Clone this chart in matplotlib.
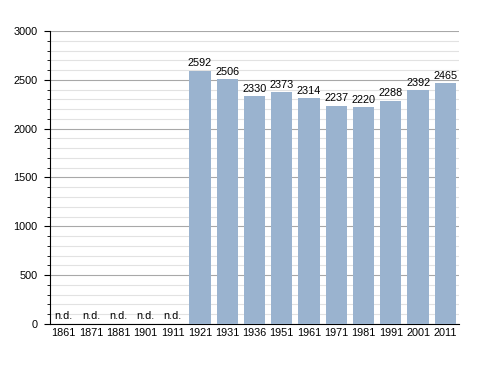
import matplotlib
matplotlib.use("Agg")
import matplotlib.pyplot as plt
from matplotlib.ticker import MultipleLocator

plt.rcParams['font.family'] = ['Liberation Sans', 'DejaVu Sans']

# census years and population (None = no data)
years = ['1861', '1871', '1881', '1901', '1911', '1921', '1931', '1936',
         '1951', '1961', '1971', '1981', '1991', '2001', '2011']
population = [None, None, None, None, None, 2592, 2506, 2330,
              2373, 2314, 2237, 2220, 2288, 2392, 2465]

fig = plt.figure(figsize=(4.88, 3.73), dpi=100)
ax = fig.add_axes([0.1025, 0.1314, 0.838, 0.7855])

x = range(len(years))
vals = [v if v is not None else 0 for v in population]
ax.bar(x, vals, width=0.78, color='#9ab3cf', zorder=3)

for i, v in zip(x, population):
    if v is None:
        ax.text(i, 30, 'n.d.', ha='center', va='bottom', fontsize=7.8, zorder=4)
    else:
        ax.text(i, v + 25, str(v), ha='center', va='bottom', fontsize=7.8, zorder=4)

ax.set_xlim(-0.5, len(years) - 0.5)
ax.set_ylim(0, 3000)
ax.yaxis.set_major_locator(MultipleLocator(500))
ax.yaxis.set_minor_locator(MultipleLocator(100))
ax.grid(axis='y', which='major', color='#a8a8a8', linewidth=0.8, zorder=0)
ax.grid(axis='y', which='minor', color='#e2e2e2', linewidth=0.8, zorder=0)
ax.set_axisbelow(True)

ax.set_xticks(list(x))
ax.set_xticklabels(years, fontsize=7.8)
ax.tick_params(axis='x', length=0, pad=3)
ax.tick_params(axis='y', which='major', length=4, labelsize=7.8, pad=5)
ax.tick_params(axis='y', which='minor', length=2.5)

for s in ['top', 'right']:
    ax.spines[s].set_visible(False)
ax.spines['left'].set_linewidth(0.8)
ax.spines['bottom'].set_linewidth(0.8)

fig.savefig('out.png', dpi=100)
